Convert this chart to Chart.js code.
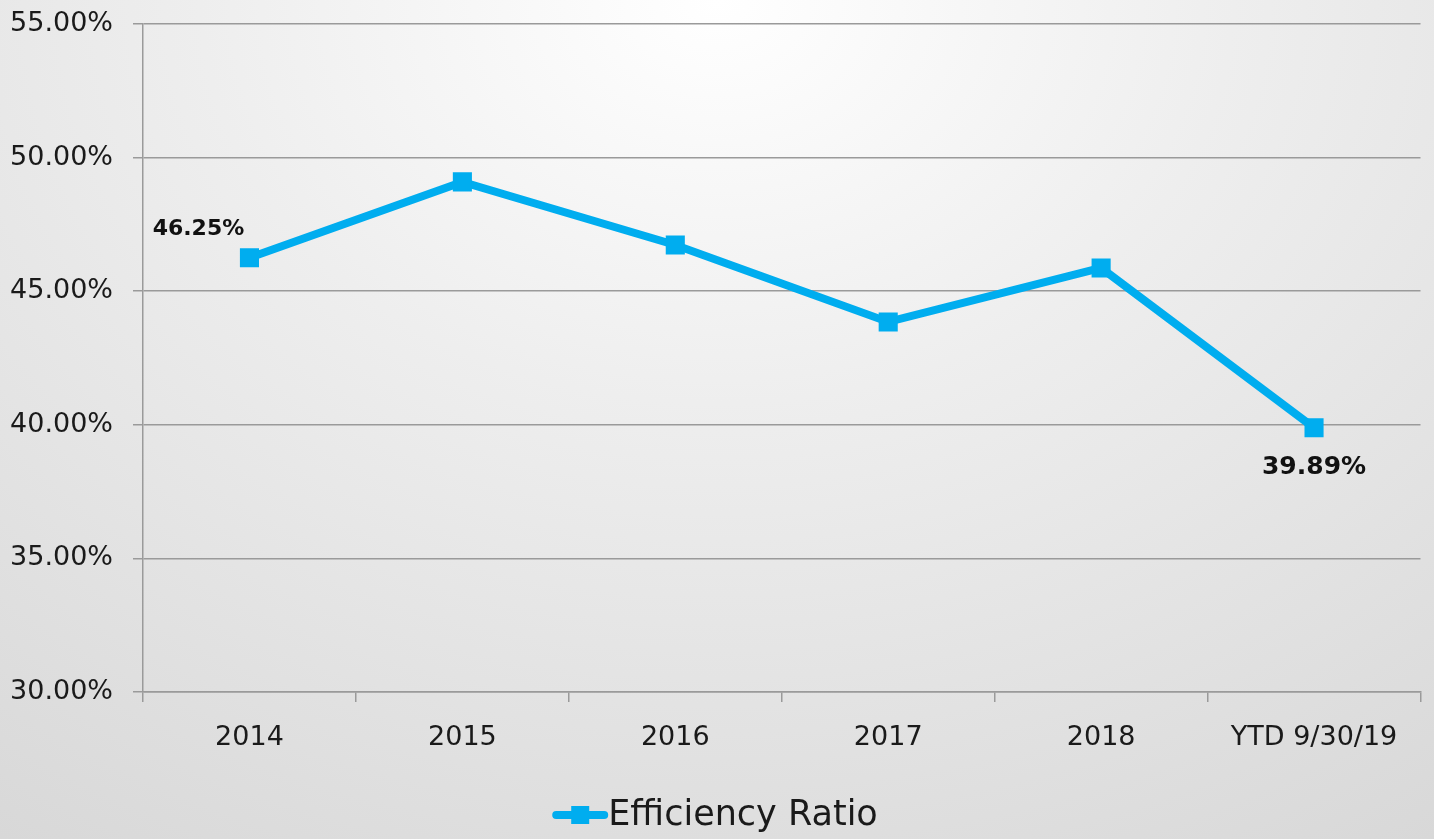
<!DOCTYPE html>
<html>
<head>
<meta charset="utf-8">
<script src="https://cdn.jsdelivr.net/npm/chart.js@4/dist/chart.umd.min.js"></script>
<style>
  html, body { margin: 0; padding: 0; }
  body {
    width: 1434px; height: 839px; overflow: hidden;
    background: radial-gradient(ellipse 90% 120% at 50% 0%, #ffffff 0%, #eeeeee 40%, #d8d8d8 100%);
  }
  #wrap { width: 1434px; height: 839px; }
</style>
</head>
<body>
<div id="wrap"><canvas id="chart"></canvas></div>
<script>
var categories = ["2014", "2015", "2016", "2017", "2018", "YTD 9/30/19"];
var ratioValues = [46.25, 49.09, 46.73, 43.85, 45.87, 39.89];
var yTicks = [30, 35, 40, 45, 50, 55];
var labelledPoints = [0, 5];

var lineColor = "#00adef";
var fontName = "'DejaVu Sans', sans-serif";

// draws the two value labels and the legend at the bottom
var extrasPlugin = {
    id: "extras",
    afterDatasetsDraw: function (chart) {
        var ctx = chart.ctx;
        var meta = chart.getDatasetMeta(0);
        ctx.save();
        ctx.fillStyle = "#111";
        ctx.textAlign = "center";
        ctx.textBaseline = "middle";
        labelledPoints.forEach(function (i) {
            var pt = meta.data[i];
            var text = ratioValues[i].toFixed(2) + "%";
            if (i == 0) {
                ctx.font = "bold 22px " + fontName;
                ctx.fillText(text, pt.x - 51, pt.y - 29);
            } else {
                ctx.font = "bold 25px " + fontName;
                ctx.fillText(text, pt.x, pt.y + 40);
            }
        });

        // legend
        var ds = chart.data.datasets[0];
        var ly = 815;
        ctx.font = "35px " + fontName;
        var tw = ctx.measureText(ds.label).width;
        var total = 52 + tw;
        var lx = (chart.width - total) / 2;
        ctx.strokeStyle = lineColor;
        ctx.lineWidth = 8;
        ctx.lineCap = "round";
        ctx.beginPath();
        ctx.moveTo(lx, ly);
        ctx.lineTo(lx + 48, ly);
        ctx.stroke();
        ctx.fillStyle = lineColor;
        ctx.fillRect(lx + 24 - 9, ly - 9, 18, 18);
        ctx.fillStyle = "#1a1a1a";
        ctx.textAlign = "left";
        ctx.fillText(ds.label, lx + 52, ly + 1);
        ctx.restore();
    }
};

new Chart(document.getElementById("chart"), {
    type: "line",
    data: {
        labels: categories,
        datasets: [{
            label: "Efficiency Ratio",
            data: ratioValues,
            borderColor: lineColor,
            backgroundColor: lineColor,
            borderWidth: 8,
            pointStyle: "rect",
            pointRadius: 13.5,
            pointHoverRadius: 13.5,
            pointBorderWidth: 0,
            tension: 0
        }]
    },
    options: {
        responsive: true,
        maintainAspectRatio: false,
        animation: false,
        events: [],
        layout: { padding: { top: 24, right: 12, left: 0, bottom: 0 } },
        plugins: {
            legend: { display: false },
            tooltip: { enabled: false }
        },
        scales: {
            x: {
                offset: true,
                afterFit: function (scale) { scale.height = 147; },
                grid: {
                    offset: true,
                    drawOnChartArea: false,
                    drawTicks: true,
                    tickLength: 10,
                    color: "#9a9a9a",
                    lineWidth: 1.5
                },
                border: { color: "#9a9a9a", width: 1.5 },
                ticks: {
                    color: "#1a1a1a",
                    padding: 20,
                    maxRotation: 0,
                    font: { family: fontName, size: 27 }
                }
            },
            y: {
                min: yTicks[0],
                max: yTicks[yTicks.length - 1],
                afterFit: function (scale) {
                    scale.width = 143;
                    scale.paddingTop = 0;
                    scale.paddingBottom = 0;
                },
                afterBuildTicks: function (scale) {
                    scale.ticks = yTicks.map(function (v) { return { value: v }; });
                },
                grid: {
                    color: "#9a9a9a",
                    lineWidth: 1.5,
                    tickLength: 10
                },
                border: { color: "#9a9a9a", width: 1.5 },
                ticks: {
                    color: "#1a1a1a",
                    padding: 20,
                    font: { family: fontName, size: 27 },
                    callback: function (v) { return v.toFixed(2) + "%"; }
                }
            }
        }
    },
    plugins: [extrasPlugin]
});
</script>
</body>
</html>
